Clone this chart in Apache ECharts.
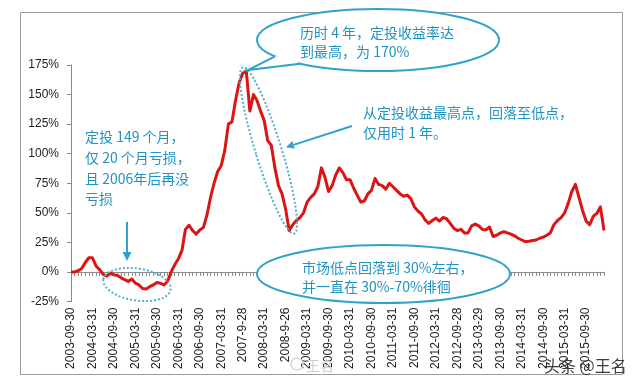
<!DOCTYPE html>
<html><head><meta charset="utf-8">
<script src="https://cdn.jsdelivr.net/npm/echarts@6/dist/echarts.min.js"></script>
<style>html,body{margin:0;padding:0;background:#fff}#c{width:640px;height:386px}</style>
</head><body><div id="c"></div>
<script>
// monthly categories 2003-09 .. 2016-02 (150 months)
const categories = [];
for (let y = 2003, m = 9; categories.length < 150; m++) {
  if (m > 12) { m = 1; y++; }
  categories.push(y + '-' + String(m).padStart(2, '0'));
}
// cumulative return of the monthly investment plan, in %
const returns = [
  0, 0, 1, 3, 8, 12, 12, 5, 2, -2,
  -3.5, -1, -2.5, -3, -5, -6.5, -8, -6, -9.5, -11,
  -14, -14.5, -12.5, -11, -9, -9.6, -11, -8, 0, 6,
  11, 18, 36, 39.5, 35, 32, 35.5, 37.5, 48, 63,
  75, 85, 90, 103, 125, 127, 145, 160, 168, 170,
  136, 150, 145, 136, 128, 111, 107, 88, 73, 66,
  53, 35, 40, 43.5, 46, 50, 59, 63, 66, 72,
  88, 80, 68, 73, 82, 88, 84, 78, 78, 71,
  65, 59, 60, 66, 69, 79, 74, 73, 70, 75,
  72, 69, 66, 64, 65, 62, 55, 51.5, 49, 44,
  41, 43.5, 45.5, 43, 46, 45, 41, 37, 35, 36,
  33, 33, 39, 40.5, 39, 36, 35.5, 38, 30, 31,
  33, 34, 33, 32, 30.5, 28.5, 27, 25.6, 26, 26.5,
  27, 28.5, 29.5, 31, 33, 40, 43.5, 46, 50, 58,
  68, 74, 63, 52, 43, 40, 47, 49.5, 55, 35
];
const tickLabels = [
  '2003-09-30','2004-03-31','2004-09-30','2005-03-31','2005-09-30',
  '2006-03-31','2006-09-30','2007-03-31','2007-9-28','2008-03-31',
  '2008-9-26','2009-03-31','2009-09-30','2010-03-31','2010-09-30',
  '2011-03-31','2011-09-30','2012-03-31','2012-09-28','2013-03-29',
  '2013-09-30','2014-03-31','2014-09-30','2015-03-31','2015-09-30'
];
const yMin = -25, yMax = 175, yStep = 25;

const TEAL = '#2ea3cc', TXT = '#1f93c2';
const FONT = 'Noto Sans CJK SC';
function txt(x, y, s, size, color) {
  return { type: 'text', x: x, y: y, z: 120,
    style: { text: s, fill: color || TXT, fontSize: size || 14, fontFamily: FONT, verticalAlign: 'middle' } };
}

const chart = echarts.init(document.getElementById('c'), null, { renderer: 'canvas' });
chart.setOption({
  animation: false,
  backgroundColor: '#fff',
  grid: { left: 71, right: 36, top: 65, bottom: 84.5, containLabel: false },
  xAxis: {
    type: 'category', data: categories, boundaryGap: false,
    axisLine: { onZero: true, lineStyle: { color: '#8a8a8a', width: 1 } },
    axisTick: { show: true, interval: 0, length: 4, lineStyle: { color: '#8a8a8a' } },
    axisLabel: {
      interval: 5, rotate: 90, margin: 6, color: '#222', fontSize: 12,
      fontFamily: 'Liberation Sans',
      formatter: (v, i) => tickLabels[i / 6] || ''
    },
    splitLine: { show: false }
  },
  yAxis: {
    type: 'value', min: yMin, max: yMax, interval: yStep,
    axisLine: { show: true, lineStyle: { color: '#8a8a8a' } },
    axisTick: { show: true, length: 4, lineStyle: { color: '#8a8a8a' } },
    axisLabel: { formatter: '{value}%', color: '#222', fontSize: 12, fontFamily: 'Liberation Sans', margin: 12 },
    splitLine: { show: false }
  },
  series: [{
    type: 'line', data: returns, symbol: 'none', smooth: false,
    lineStyle: { color: '#dc1414', width: 3, join: 'round' }, z: 5
  }],
  graphic: [
    // outer frame
    { type: 'rect', z: 1, shape: { x: 20.5, y: 12.5, width: 602, height: 362 },
      style: { fill: 'none', stroke: '#9a9a9a', lineWidth: 1 } },
    // top callout bubble
    { type: 'ellipse', z: 110, shape: { cx: 378, cy: 40, rx: 121, ry: 31 },
      style: { fill: '#fff', stroke: TEAL, lineWidth: 2 } },
    { type: 'polygon', z: 111, shape: { points: [[275, 56.3], [288, 56], [300, 63.7], [248, 70]] },
      style: { fill: '#fff' } },
    { type: 'polyline', z: 112, shape: { points: [[275, 56.3], [248, 70], [300, 63.7]] },
      style: { fill: 'none', stroke: TEAL, lineWidth: 2 } },
    txt(300, 33, '历时 4 年，定投收益率达'),
    txt(300, 52, '到最高，为 170%'),
    // left note
    txt(85, 136.5, '定投 149 个月，'),
    txt(85, 157.5, '仅 20 个月亏损，'),
    txt(85, 178.5, '且 2006年后再没'),
    txt(85, 199, '亏损'),
    { type: 'line', z: 110, shape: { x1: 127, y1: 222, x2: 127, y2: 253 },
      style: { stroke: TEAL, lineWidth: 2 } },
    { type: 'polygon', z: 110, shape: { points: [[122.5, 252], [131.5, 252], [127, 261]] },
      style: { fill: TEAL } },
    // dotted ellipse around the loss period
    { type: 'ellipse', z: 108, x: 137, y: 284.5, rotation: -0.15,
      shape: { cx: 0, cy: 0, rx: 34, ry: 16 },
      style: { fill: 'none', stroke: '#4fb0d0', lineWidth: 2, lineDash: [2, 2] } },
    // dotted ellipse around the fall
    { type: 'ellipse', z: 108, x: 268.5, y: 150.5, rotation: 0.30,
      shape: { cx: 0, cy: 0, rx: 13, ry: 87 },
      style: { fill: 'none', stroke: '#4fb0d0', lineWidth: 2, lineDash: [2, 2] } },
    // arrow to the fall
    { type: 'line', z: 110, shape: { x1: 352, y1: 126, x2: 293.6, y2: 144.9 },
      style: { stroke: TEAL, lineWidth: 2 } },
    { type: 'polygon', z: 110, shape: { points: [[294.8, 148.7], [292.4, 141.1], [286, 147.3]] },
      style: { fill: TEAL } },
    txt(363, 113, '从定投收益最高点，回落至低点，'),
    txt(363, 133, '仅用时 1 年。'),
    // bottom bubble
    { type: 'ellipse', z: 110, shape: { cx: 383.5, cy: 274, rx: 126.5, ry: 29 },
      style: { fill: '#fff', stroke: TEAL, lineWidth: 2 } },
    txt(302, 268, '市场低点回落到 30%左右，'),
    txt(302, 287, '并一直在 30%-70%徘徊'),
    // watermarks
    txt(306, 366, '王名', 14, '#d0d0d0'),
    { type: 'circle', z: 105, shape: { cx: 297, cy: 364, r: 6 },
      style: { fill: 'none', stroke: '#d8d8d8', lineWidth: 1.5 } },
    txt(544, 366, '头条 @王名', 16, '#3a3a3a')
  ]
});
</script>
</body></html>
